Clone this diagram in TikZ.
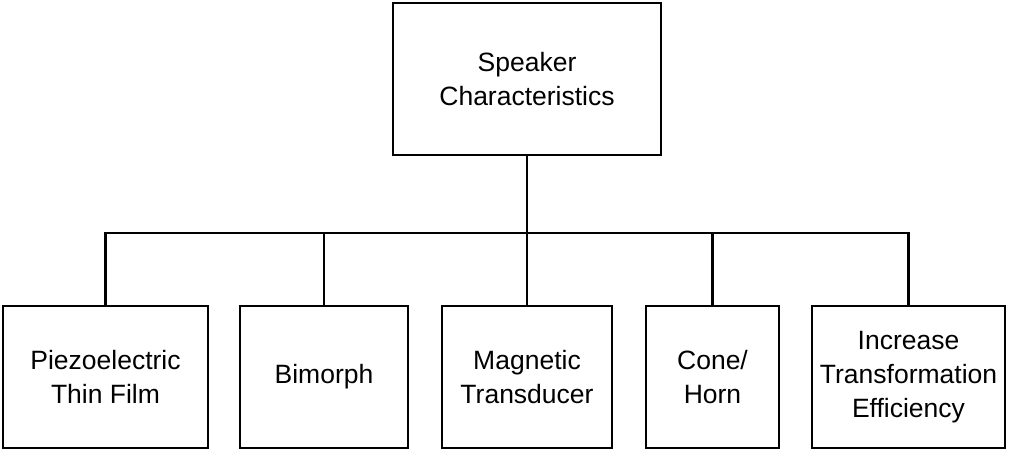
\documentclass[tikz,border=0pt]{standalone}
\usepackage{fontspec}
\setmainfont{Liberation Sans}
\begin{document}
\begin{tikzpicture}[x=1pt,y=-1pt,
  box/.style={draw, line width=2.6pt, align=center, inner sep=0pt,
    font=\fontsize{26.5}{34}\selectfont},
  conn/.style={line width=2.6pt}]
\useasboundingbox (0,0) rectangle (1010,450);
\node[box, minimum width=268pt, minimum height=152pt] (top) at (527,79) {Speaker\\Characteristics};
\node[box, minimum width=205pt, minimum height=142pt] (b1) at (105.5,377) {Piezoelectric\\Thin Film};
\node[box, minimum width=168pt, minimum height=142pt] (b2) at (324,377) {Bimorph};
\node[box, minimum width=170pt, minimum height=142pt] (b3) at (527,377) {Magnetic\\Transducer};
\node[box, minimum width=133pt, minimum height=142pt] (b4) at (712.5,377) {Cone/\\Horn};
\node[box, minimum width=193pt, minimum height=142pt] (b5) at (908.5,377) {Increase\\Transformation\\Efficiency};
\coordinate (bus) at (527,233);
\draw[conn] (top.south) -- (bus);
\draw[conn] (b1.north) -- (b1.north |- bus) -- (b5.north |- bus) -- (b5.north);
\draw[conn] (b2.north) -- (b2.north |- bus);
\draw[conn] (b3.north) -- (b3.north |- bus);
\draw[conn] (b4.north) -- (b4.north |- bus);
\end{tikzpicture}
\end{document}
